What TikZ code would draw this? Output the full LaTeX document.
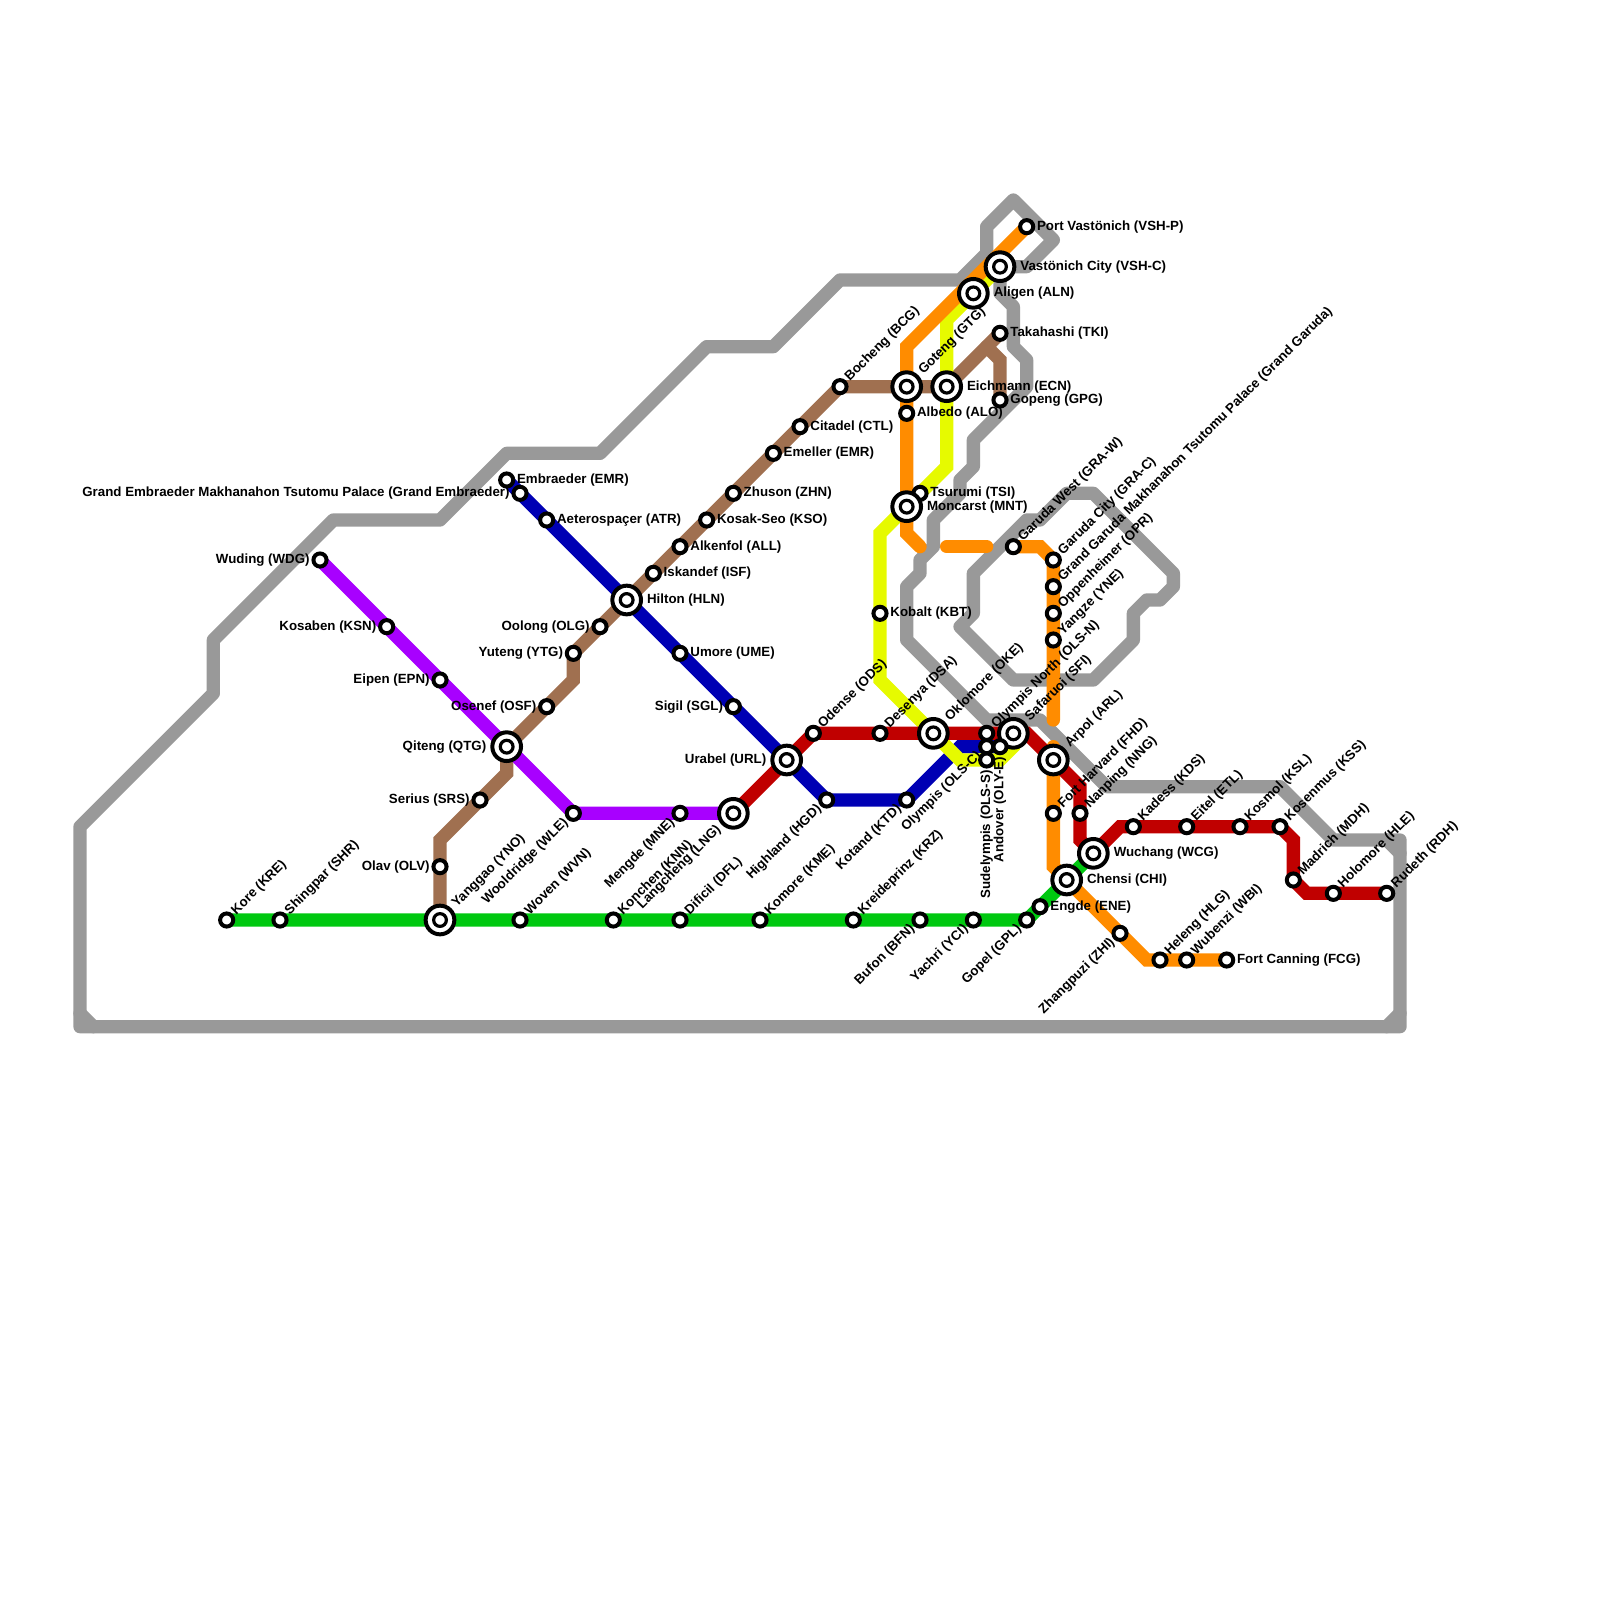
\documentclass[tikz,border=0pt]{standalone}
\usepackage{fontspec}
\setmainfont{Liberation Sans}
\usetikzlibrary{backgrounds}
\definecolor{RiverGray}{HTML}{999999}
\definecolor{LineGreen}{HTML}{00C810}
\definecolor{LineRed}{HTML}{C00000}
\definecolor{LineBlue}{HTML}{0000B4}
\definecolor{LinePurple}{HTML}{A800FF}
\definecolor{LineBrown}{HTML}{A07050}
\definecolor{LineOrange}{HTML}{FF8C00}
\definecolor{LineYellow}{HTML}{E6FA00}
\tikzset{
  every label/.style={font=\bfseries\fontsize{7.1pt}{8pt}\selectfont,inner ysep=0pt,outer sep=0pt,text=black},
  stn/.style={circle,draw=black,fill=white,line width=2.13pt,minimum size=7pt,inner sep=0pt,outer sep=0pt},
  stnint/.style={circle,draw=black,fill=white,line width=2.13pt,minimum size=15.3pt,inner sep=0pt,outer sep=0pt,
    path picture={\draw[black,line width=1.7pt] (path picture bounding box.center) circle (3.4pt);}},
  lblr/.style={label={[inner xsep=2.05pt,anchor=west]0:#1}},
  lbll/.style={label={[inner xsep=2.05pt,anchor=east]180:#1}},
  lblu/.style={label={[inner xsep=2.05pt,rotate=45,anchor=west]45:#1}},
  lbld/.style={label={[inner xsep=2.05pt,rotate=45,anchor=east]225:#1}},
  lblv/.style={label={[inner xsep=2.05pt,rotate=90,anchor=east]270:#1}},
  intr/.style={label={[inner xsep=3.25pt,anchor=west]0:#1}},
  intl/.style={label={[inner xsep=3.25pt,anchor=east]180:#1}},
  intu/.style={label={[inner xsep=3.25pt,rotate=45,anchor=west]45:#1}},
  intd/.style={label={[inner xsep=3.25pt,rotate=45,anchor=east]225:#1}},
  metro/.style={line width=7.1pt,line cap=round,line join=miter},
  river/.style={draw=RiverGray,line width=7.1pt,line cap=round,line join=round}
}
\begin{document}
\begin{tikzpicture}[x=0.25cm,y=-0.25cm]
  \useasboundingbox (0,0) rectangle (120,120);
  % green
  \node[stn,lblu={Kore (KRE)}] (KRE) at (17,69) {};
  \node[stn,lblu={Shingpar (SHR)}] (SHR) at (21,69) {};
  \node[stnint,intu={Yanggao (YNO)}] (YNO) at (33,69) {};
  \node[stn,lblu={Woven (WVN)}] (WVN) at (39,69) {};
  \node[stn,lblu={Konchen (KNN)}] (KNN) at (46,69) {};
  \node[stn,lblu={Dificil (DFL)}] (DFL) at (51,69) {};
  \node[stn,lblu={Komore (KME)}] (KME) at (57,69) {};
  \node[stn,lblu={Kreideprinz (KRZ)}] (KRZ) at (64,69) {};
  \node[stn,lbld={Bufon (BFN)}] (BFN) at (69,69) {};
  \node[stn,lbld={Yachri (YCI)}] (YCI) at (73,69) {};
  \node[stn,lbld={Gopel (GPL)}] (GPL) at (77,69) {};
  \node[stn,lblr={Engde (ENE)}] (ENE) at (78,68) {};
  \node[stnint,intr={Chensi (CHI)}] (CHI) at (80,66) {};
  \node[stnint,intr={Wuchang (WCG)}] (WCG) at (82,64) {};
  % red
  \node[stnint,intd={Langcheng (LNG)}] (LNG) at (55,61) {};
  \node[stnint,intl={Urabel (URL)}] (URL) at (59,57) {};
  \node[stn,lblu={Odense (ODS)}] (ODS) at (61,55) {};
  \node[stn,lblu={Desenya (DSA)}] (DSA) at (66,55) {};
  \node[stnint,intu={Oklomore (OKE)}] (OKE) at (70,55) {};
  \node[stn,lblu={Olympis North (OLS-N)}] (OLSN) at (74,55) {};
  \node[stnint,intu={Safaruoi (SFI)}] (SFI) at (76,55) {};
  \node[stnint,intu={Arpol (ARL)}] (ARL) at (79,57) {};
  \node[stn,lblu={Nanping (NNG)}] (NNG) at (81,61) {};
  \node[stn,lblu={Kadess (KDS)}] (KDS) at (85,62) {};
  \node[stn,lblu={Eitel (ETL)}] (ETL) at (89,62) {};
  \node[stn,lblu={Kosmol (KSL)}] (KSL) at (93,62) {};
  \node[stn,lblu={Kosenmus (KSS)}] (KSS) at (96,62) {};
  \node[stn,lblu={Madrich (MDH)}] (MDH) at (97,66) {};
  \node[stn,lblu={Holomore (HLE)}] (HLE) at (100,67) {};
  \node[stn,lblu={Rudeth (RDH)}] (RDH) at (104,67) {};
  % blue
  \node[stn,lblr={Embraeder (EMR)}] (EMB) at (38,36) {};
  \node[stn,lbll={Grand Embraeder Makhanahon Tsutomu Palace (Grand Embraeder)}] (GEM) at (39,37) {};
  \node[stn,lblr={Aeterospaçer (ATR)}] (ATR) at (41,39) {};
  \node[stnint,intr={Hilton (HLN)}] (HLN) at (47,45) {};
  \node[stn,lblr={Umore (UME)}] (UME) at (51,49) {};
  \node[stn,lbll={Sigil (SGL)}] (SGL) at (55,53) {};
  \node[stn,lbld={Highland (HGD)}] (HGD) at (62,60) {};
  \node[stn,lbld={Kotand (KTD)}] (KTD) at (68,60) {};
  \node[stn,lbld={Olympis (OLS-C)}] (OLSC) at (74,56) {};
  \node[stn,lblv={Andover (OLY-E)}] (OLYE) at (75,56) {};
  % purple
  \node[stn,lbll={Wuding (WDG)}] (WDG) at (24,42) {};
  \node[stn,lbll={Kosaben (KSN)}] (KSN) at (29,47) {};
  \node[stn,lbll={Eipen (EPN)}] (EPN) at (33,51) {};
  \node[stnint,intl={Qiteng (QTG)}] (QTG) at (38,56) {};
  \node[stn,lbld={Wooldridge (WLE)}] (WLE) at (43,61) {};
  \node[stn,lbld={Mengde (MNE)}] (MNE) at (51,61) {};
  % brown
  \node[stn,lbll={Olav (OLV)}] (OLV) at (33,65) {};
  \node[stn,lbll={Serius (SRS)}] (SRS) at (36,60) {};
  \node[stn,lbll={Osenef (OSF)}] (OSF) at (41,53) {};
  \node[stn,lbll={Yuteng (YTG)}] (YTG) at (43,49) {};
  \node[stn,lbll={Oolong (OLG)}] (OLG) at (45,47) {};
  \node[stn,lblr={Iskandef (ISF)}] (ISF) at (49,43) {};
  \node[stn,lblr={Alkenfol (ALL)}] (ALL) at (51,41) {};
  \node[stn,lblr={Kosak-Seo (KSO)}] (KSO) at (53,39) {};
  \node[stn,lblr={Zhuson (ZHN)}] (ZHN) at (55,37) {};
  \node[stn,lblr={Emeller (EMR)}] (EML) at (58,34) {};
  \node[stn,lblr={Citadel (CTL)}] (CTL) at (60,32) {};
  \node[stn,lblu={Bocheng (BCG)}] (BCG) at (63,29) {};
  \node[stnint,intu={Goteng (GTG)}] (GTG) at (68,29) {};
  \node[stnint,intr={Eichmann (ECN)}] (ECN) at (71,29) {};
  \node[stn,lblr={Takahashi (TKI)}] (TKI) at (75,25) {};
  \node[stn,lblr={Gopeng (GPG)}] (GPG) at (75,30) {};
  % yellow
  \node[stnint,intr={Vastönich City (VSH-C)}] (VSHC) at (75,20) {};
  \node[stnint,intr={Aligen (ALN)}] (ALN) at (73,22) {};
  \node[stn,lblr={Tsurumi (TSI)}] (TSI) at (69,37) {};
  \node[stnint,intr={Moncarst (MNT)}] (MNT) at (68,38) {};
  \node[stn,lblr={Kobalt (KBT)}] (KBT) at (66,46) {};
  \node[stn,lblv={Sudelympis (OLS-S)}] (OLSS) at (74,57) {};
  % orange
  \node[stn,lblr={Port Vastönich (VSH-P)}] (VSHP) at (77,17) {};
  \node[stn,lblr={Albedo (ALO)}] (ALO) at (68,31) {};
  \node[stn,lblu={Garuda West (GRA-W)}] (GRAW) at (76,41) {};
  \node[stn,lblu={Garuda City (GRA-C)}] (GRAC) at (79,42) {};
  \node[stn,lblu={Grand Garuda Makhanahon Tsutomu Palace (Grand Garuda)}] (GRAG) at (79,44) {};
  \node[stn,lblu={Oppenheimer (OPR)}] (OPR) at (79,46) {};
  \node[stn,lblu={Yangze (YNE)}] (YNE) at (79,48) {};
  \node[stn,lblu={Fort Harvard (FHD)}] (FHD) at (79,61) {};
  \node[stn,lbld={Zhangpuzi (ZHI)}] (ZHI) at (84,70) {};
  \node[stn,lblu={Heleng (HLG)}] (HLG) at (87,72) {};
  \node[stn,lblu={Wubenzi (WBI)}] (WBI) at (89,72) {};
  \node[stn,lblr={Fort Canning (FCG)}] (FCG) at (92,72) {};
  \coordinate (orangeA) at (69,41);
  \coordinate (orangeB) at (71,41);
  \coordinate (orangeC) at (74,41);
  \coordinate (orangeD) at (79,54);
  \coordinate (orangeE) at (79,56);
  \begin{pgfonlayer}{background}
    % river
    \draw[river] (75,20) -- (77,20) -- (79,18) -- (76,15) -- (74,17) -- (74,19) -- (72,21) -- (63,21) -- (58,26) -- (53,26)
      -- (45,34) -- (38,34) -- (33,39) -- (25,39) -- (16,48) -- (16,52) -- (6,62) -- (6,77) -- (105,77) -- (105,63) -- (100,63)
      -- (96,59) -- (83,59) -- (78,54) -- (74,54) -- (68,48) -- (68,44) -- (69,43) -- (69,42) -- (70,41) -- (70,39) -- (72,37)
      -- (72,36) -- (73,35) -- (73,33) -- (77,29) -- (77,27) -- (76,26) -- (76,23) -- (75,22) -- cycle;
    \draw[river] (72,47) -- (73,46) -- (73,43) -- (77,39) -- (78,39) -- (80,37) -- (82,37) -- (88,43) -- (88,44) -- (87,45)
      -- (86,45) -- (85,46) -- (85,48) -- (82,51) -- (76,51) -- cycle;
    \draw[river] (104,63) -- (105,64);
    \draw[river] (105,76) -- (104,77);
    \draw[river] (6,76) -- (7,77);
    % lines
    \draw[metro,LineBlue] (EMB.center) -- (GEM.center) -- (ATR.center) -- (HLN.center) -- (UME.center) -- (SGL.center)
      -- (URL.center) -- (HGD.center) -- (KTD.center) -- (72,56) -- (OLSC.center) -- (OLYE.center);
    \draw[metro,LineGreen] (KRE.center) -- (SHR.center) -- (YNO.center) -- (WVN.center) -- (KNN.center) -- (DFL.center)
      -- (KME.center) -- (KRZ.center) -- (BFN.center) -- (YCI.center) -- (GPL.center) -- (ENE.center) -- (CHI.center) -- (WCG.center);
    \draw[metro,LineBrown] (YNO.center) -- (OLV.center) -- (33,63) -- (SRS.center) -- (38,58) -- (QTG.center) -- (OSF.center)
      -- (43,51) -- (YTG.center) -- (OLG.center) -- (HLN.center) -- (ISF.center) -- (ALL.center) -- (KSO.center) -- (ZHN.center)
      -- (EML.center) -- (CTL.center) -- (BCG.center) -- (GTG.center) -- (ECN.center) -- (TKI.center);
    \draw[metro,LineBrown] (74,26) -- (75,27) -- (GPG.center);
    \draw[metro,LinePurple] (WDG.center) -- (KSN.center) -- (EPN.center) -- (QTG.center) -- (WLE.center) -- (MNE.center) -- (LNG.center);
    \draw[metro,LineYellow] (VSHC.center) -- (ALN.center) -- (71,24) -- (71,35) -- (TSI.center) -- (MNT.center) -- (66,40)
      -- (KBT.center) -- (66,51) -- (OKE.center) -- (72,57) -- (OLSS.center) -- (75,57) -- (76,56) -- (SFI.center);
    \draw[metro,LineOrange] (VSHP.center) -- (68,26) -- (ALO.center) -- (MNT.center) -- (68,40) -- (orangeA);
    \draw[metro,LineOrange] (orangeB) -- (orangeC);
    \draw[metro,LineOrange] (GRAW.center) -- (78,41) -- (GRAC.center) -- (GRAG.center) -- (OPR.center) -- (YNE.center) -- (orangeD);
    \draw[metro,LineOrange] (orangeE) -- (ARL.center) -- (FHD.center) -- (79,65) -- (CHI.center) -- (ZHI.center) -- (86,72)
      -- (HLG.center) -- (WBI.center) -- (FCG.center);
    \draw[metro,LineRed] (LNG.center) -- (URL.center) -- (ODS.center) -- (DSA.center) -- (OKE.center) -- (OLSN.center) -- (SFI.center)
      -- (77,55) -- (ARL.center) -- (81,59) -- (NNG.center) -- (81,63) -- (WCG.center) -- (84,62) -- (KDS.center) -- (ETL.center)
      -- (KSL.center) -- (KSS.center) -- (97,63) -- (MDH.center) -- (98,67) -- (HLE.center) -- (RDH.center);
  \end{pgfonlayer}
\end{tikzpicture}
\end{document}
